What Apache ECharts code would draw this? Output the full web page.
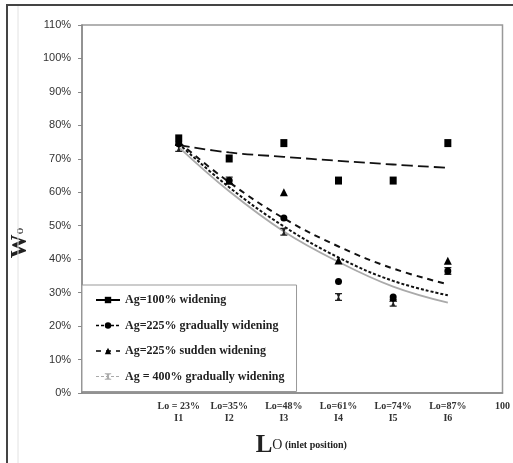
<!DOCTYPE html>
<html>
<head>
<meta charset="utf-8">
<script src="https://cdn.jsdelivr.net/npm/echarts@6/dist/echarts.min.js"></script>
<style>html,body{margin:0;padding:0;background:#fff;}#c{width:513px;height:463px;}</style>
</head>
<body>
<div id="c"></div>
<script>
// ---- data ----
const xPositions = [23, 35, 48, 61, 74, 87];            // Lo (%) inlet positions
const xTickLabels = ['Lo = 23%\nI1', 'Lo=35%\nI2', 'Lo=48%\nI3', 'Lo=61%\nI4', 'Lo=74%\nI5', 'Lo=87%\nI6', '100'];
const xTickValues = [23, 35, 48, 61, 74, 87, 100];
const seriesNames = ['Ag=100% widening', 'Ag=225% gradually widening', 'Ag=225% sudden widening', 'Ag = 400% gradually widening'];
const wo100 = [76.1, 70.1, 74.7, 63.5, 63.5, 74.7];
const wo225g = [74.5, 63.5, 52.3, 33.3, 28.7, 36.5];
const wo225s = [75.0, 63.5, 60.0, 39.6, 28.5, 39.5];
const wo400g = [73.2, 63.5, 48.2, 28.7, 27.0, 36.5];
// trend lines (read at each inlet position)
const trend100 = [74.1, 71.9, 70.6, 69.4, 68.3, 67.3];
const trend225g = [74.5, 61.5, 49.8, 40.5, 33.5, 29.2];
const trend225s = [75.0, 63.0, 52.2, 43.8, 37.2, 32.5];
const trend400g = [73.5, 60.3, 48.3, 39.2, 31.8, 27.0];

const pair = arr => arr.map((v, i) => [xPositions[i], v]);
const hourglass = 'path://M0,0H10V1.6H7.6L5.9,5L7.6,8.4H10V10H0V8.4H2.4L4.1,5L2.4,1.6H0Z';
const serif = '"Liberation Serif", "Times New Roman", serif';

const chart = echarts.init(document.getElementById('c'), null, {renderer: 'canvas'});

function markerSeries(name, data, symbol, size, color) {
  return {
    name, type: 'line', data: pair(data), symbol, symbolSize: size,
    itemStyle: {color}, lineStyle: {opacity: 0, width: 0}, z: 5,
    emphasis: {disabled: true}
  };
}
function trendSeries(data, color, width, type) {
  return {
    type: 'line', data: pair(data), smooth: 0.4, symbol: 'none', silent: true,
    lineStyle: {color, width, type}, z: 3
  };
}

chart.setOption({
  animation: false,
  backgroundColor: '#fff',
  grid: {left: 75, right: 9, top: 25, bottom: 55, show: true, borderColor: '#999', borderWidth: 1.5, backgroundColor: 'transparent'},
  xAxis: {
    type: 'value', min: 0, max: 100,
    splitLine: {show: false},
    axisTick: {show: false},
    axisLine: {lineStyle: {color: '#888', width: 1.5}},
    axisLabel: {
      customValues: xTickValues, showMaxLabel: true, showMinLabel: true, hideOverlap: false,
      formatter: v => xTickLabels[xTickValues.indexOf(v)] || '',
      fontFamily: serif, fontWeight: 'bold', fontSize: 10, color: '#333', lineHeight: 12, margin: 7
    },
    name: '{L|L}{O|O}{t| (inlet position)}',
    nameLocation: 'middle', nameGap: 40,
    nameTextStyle: {
      padding: [0, 0, 0, 18],
      rich: {
        L: {fontFamily: serif, fontSize: 25, fontWeight: 'bold', color: '#222'},
        O: {fontFamily: serif, fontSize: 14, color: '#222'},
        t: {fontFamily: serif, fontSize: 10, fontWeight: 'bold', color: '#222'}
      }
    }
  },
  yAxis: {
    type: 'value', min: 0, max: 110, interval: 10,
    splitLine: {show: false},
    axisLine: {show: true, lineStyle: {color: '#888', width: 1.5}},
    axisTick: {show: true, inside: false, length: 4, lineStyle: {color: '#888'}},
    axisLabel: {formatter: '{value}%', fontFamily: '"Liberation Sans Narrow", "Liberation Sans", sans-serif', fontSize: 11, color: '#333', margin: 11},
    name: '{W|W}{o|o}',
    nameLocation: 'middle', nameGap: 42, nameRotate: 90,
    nameTextStyle: {
      padding: [0, 68, 0, 0],
      rich: {
        W: {fontFamily: serif, fontSize: 24, fontWeight: 'bold', color: '#222'},
        o: {fontFamily: serif, fontSize: 13, color: '#222'}
      }
    }
  },
  legend: {
    orient: 'vertical', left: 82, top: 285,
    padding: [8, 12, 8, 13], itemGap: 11.5, itemWidth: 24, itemHeight: 8,
    borderColor: '#999', borderWidth: 1, backgroundColor: '#fff',
    textStyle: {fontFamily: serif, fontWeight: 'bold', fontSize: 12, lineHeight: 14, color: '#222'},
    selectedMode: false,
    data: [
      {name: seriesNames[0], lineStyle: {opacity: 1, width: 2, color: '#000', type: 'solid'}},
      {name: seriesNames[1], lineStyle: {opacity: 1, width: 1.5, color: '#000', type: [3, 2]}},
      {name: seriesNames[2], lineStyle: {opacity: 1, width: 1.5, color: '#000', type: [5, 5]}},
      {name: seriesNames[3], lineStyle: {opacity: 1, width: 1, color: '#aaa', type: [3, 2]}, itemStyle: {color: '#aaa'}}
    ]
  },
  graphic: [
    {type: 'rect', shape: {x: 7, y: 5, width: 530, height: 480}, style: {fill: null, stroke: '#444', lineWidth: 2}, silent: true, z: 100},
    {type: 'line', shape: {x1: 18, y1: 6, x2: 18, y2: 463}, style: {stroke: '#e2e2e2', lineWidth: 1}, silent: true, z: 100}
  ],
  series: [
    trendSeries(trend400g, '#aaa', 1.8, 'solid'),
    trendSeries(trend225g, '#111', 2, [3, 2]),
    trendSeries(trend225s, '#111', 2, [6, 5]),
    trendSeries(trend100, '#111', 1.8, [11, 5]),
    markerSeries(seriesNames[3], wo400g, hourglass, [7, 8], '#222'),
    markerSeries(seriesNames[2], wo225s, 'triangle', 8, '#000'),
    markerSeries(seriesNames[1], wo225g, 'circle', 7, '#000'),
    markerSeries(seriesNames[0], wo100, 'rect', [7, 8], '#000')
  ]
});
</script>
</body>
</html>
